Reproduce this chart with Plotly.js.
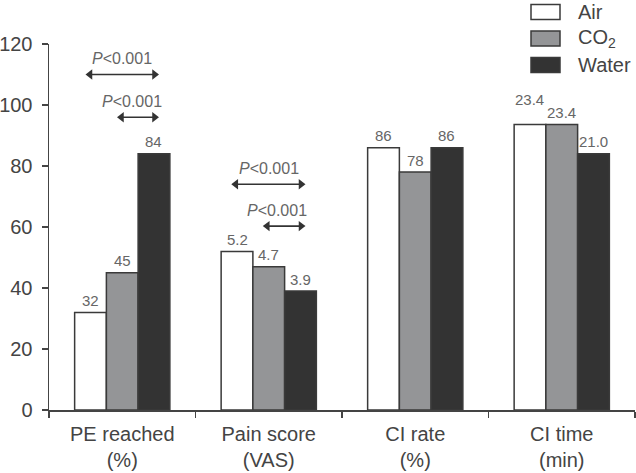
<!DOCTYPE html>
<html>
<head>
<meta charset="utf-8">
<script src="https://cdn.plot.ly/plotly-3.0.1.min.js"></script>
<style>html,body{margin:0;padding:0;background:#fff;}#chart{width:636px;height:473px;}</style>
</head>
<body>
<div id="chart"></div>
<script>
// ---- data ----
const categories = ["PE reached<br>(%)", "Pain score<br>(VAS)", "CI rate<br>(%)", "CI time<br>(min)"];
const seriesNames = ["Air", "CO<sub>2</sub>", "Water"];
// bar heights as drawn on the shared 0-120 axis
const airValues = [32, 52, 86, 93.6];
const co2Values = [45, 47, 78, 93.6];
const waterValues = [84, 39, 86, 84];
// value labels printed above the bars
const airLabels = ["32", "5.2", "86", "23.4"];
const co2Labels = ["45", "4.7", "78", "23.4"];
const waterLabels = ["84", "3.9", "86", "21.0"];
// significance brackets: category index, from/to offsets, y, label
const sigCategory = [0, 0, 1, 1];
const sigFrom = [-0.22, -0.005, -0.225, -0.01];
const sigTo = [0.22, 0.22, 0.22, 0.22];
const sigY = [110, 96, 74, 60.3];
const sigText = ["<i>P</i><0.001", "<i>P</i><0.001", "<i>P</i><0.001", "<i>P</i><0.001"];
const sigTextX = [0, 0.065, 0, 0.056];

// ---- style ----
const colors = ["#ffffff", "#949597", "#333333"];
const edge = "#3a3a3a";
const textGray = "#666666";
const font = "Liberation Sans, Arial, sans-serif";

const values = [airValues, co2Values, waterValues];
const labels = [airLabels, co2Labels, waterLabels];

const traces = values.map((v, i) => ({
  type: "bar",
  name: seriesNames[i],
  x: categories,
  y: v,
  marker: {color: colors[i], line: {color: edge, width: 1.5}},
  showlegend: false,
  hoverinfo: "skip"
}));

// significance arrows on an overlaid numeric axis aligned with the category slots
sigCategory.forEach((c, k) => {
  traces.push({
    type: "scatter", mode: "lines+markers", xaxis: "x2", yaxis: "y",
    x: [c + sigFrom[k], c + sigTo[k]], y: [sigY[k], sigY[k]],
    line: {color: "#333", width: 1.6},
    marker: {symbol: ["triangle-left", "triangle-right"], size: 9, color: "#333"},
    showlegend: false, hoverinfo: "skip", cliponaxis: false
  });
});

const barW = 0.65 / 3;
const annotations = [];
const shapes = [];
// value labels
labels.forEach((arr, s) => {
  arr.forEach((t, c) => {
    let ys = 12, xs = 0;
    if (c === 3 && s === 0) { ys = 25; xs = -1; }
    annotations.push({
      x: c + (s - 1) * barW, y: values[s][c], xref: "x2", yref: "y",
      text: t, showarrow: false, yanchor: "middle", yshift: ys, xshift: xs,
      font: {family: font, size: 15, color: textGray}
    });
  });
});
// significance labels
sigCategory.forEach((c, k) => {
  annotations.push({
    x: c + sigTextX[k], y: sigY[k], xref: "x2", yref: "y",
    text: sigText[k], showarrow: false, yanchor: "middle", yshift: 16,
    font: {family: font, size: 16, color: textGray}
  });
});
// legend (custom boxes)
seriesNames.forEach((n, i) => {
  const cy = 1.0 + (32 - 26.5 * i) / 366; // paper coords
  shapes.push({
    type: "rect", xref: "paper", yref: "paper",
    x0: (531 - 49) / 586, x1: (560 - 49) / 586,
    y0: cy - 7.5 / 366, y1: cy + 7.5 / 366,
    fillcolor: colors[i], line: {color: edge, width: 1.5}
  });
  annotations.push({
    x: (576 - 49) / 586, y: cy, xref: "paper", yref: "paper",
    text: n, showarrow: false, xanchor: "left", yanchor: "middle",
    font: {family: font, size: 20, color: "#444"}
  });
});

const layout = {
  width: 636, height: 473,
  margin: {l: 49, r: 1, t: 44, b: 63, pad: 0},
  paper_bgcolor: "#fff", plot_bgcolor: "rgba(0,0,0,0)",
  barmode: "group", bargap: 0.35, bargroupgap: 0,
  showlegend: false,
  xaxis: {
    type: "category", range: [-0.5, 3.5],
    showline: true, linecolor: "#444", linewidth: 1.5,
    ticks: "outside", tickson: "boundaries", ticklen: 6, tickwidth: 1.5, tickcolor: "#444",
    showgrid: false, zeroline: false, ticklabelstandoff: 5,
    tickfont: {family: font, size: 20, color: "#444"}
  },
  xaxis2: {
    overlaying: "x", range: [-0.5, 3.5], visible: false, showgrid: false, zeroline: false
  },
  yaxis: {
    range: [0, 120], tickvals: [0, 20, 40, 60, 80, 100, 120],
    showline: true, linecolor: "#444", linewidth: 1.5,
    ticks: "outside", ticklen: 6, tickwidth: 1.5, tickcolor: "#444",
    showgrid: false, zeroline: false, ticklabelstandoff: 5,
    tickfont: {family: font, size: 20, color: "#444"}
  },
  annotations: annotations,
  shapes: shapes
};

Plotly.newPlot("chart", traces, layout, {displayModeBar: false, staticPlot: true});
</script>
</body>
</html>
